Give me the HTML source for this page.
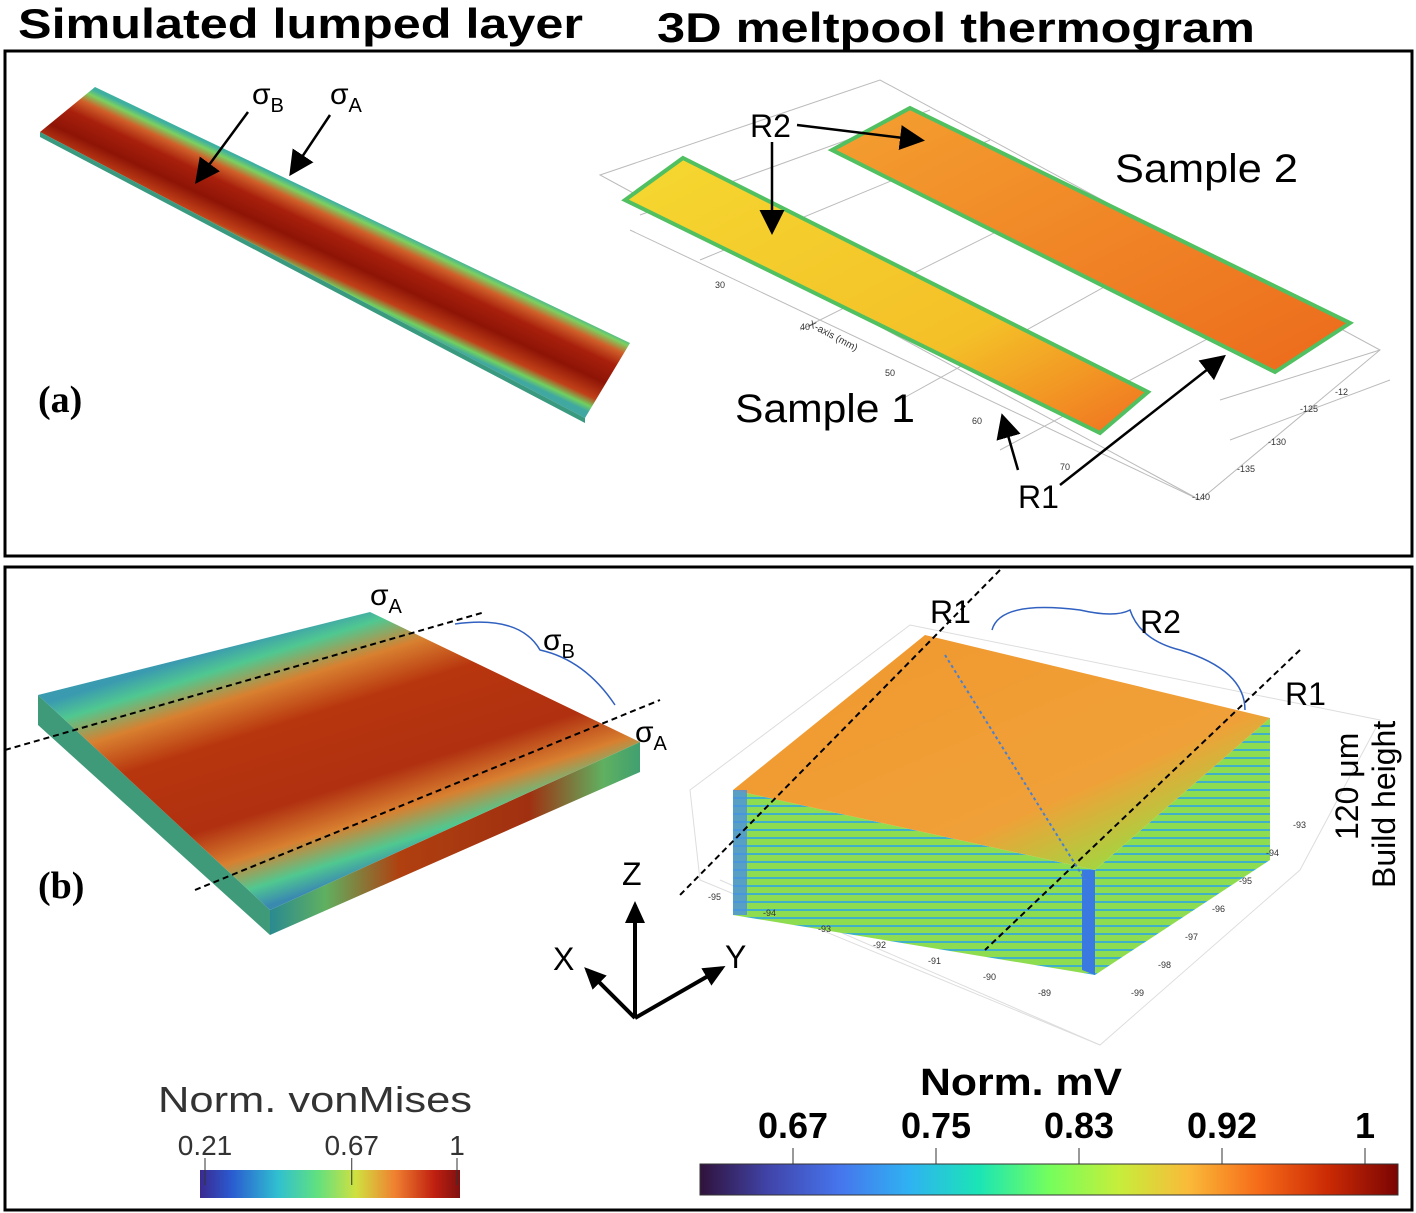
<!DOCTYPE html>
<html><head><meta charset="utf-8"><style>
body{margin:0;background:#fff;width:1416px;height:1213px;overflow:hidden;font-family:"Liberation Sans",sans-serif}
svg{display:block}
</style></head><body>
<svg width="1416" height="1213" viewBox="0 0 1416 1213">
<defs>
<linearGradient id="stripA" gradientUnits="userSpaceOnUse" x1="362" y1="215" x2="327" y2="290">
<stop offset="0" stop-color="#3fb0a0"/><stop offset="0.07" stop-color="#7cd060"/><stop offset="0.18" stop-color="#d0602a"/><stop offset="0.35" stop-color="#a8200c"/><stop offset="0.6" stop-color="#8e1406"/><stop offset="0.82" stop-color="#c04018"/><stop offset="0.93" stop-color="#70d060"/><stop offset="1" stop-color="#40a8a0"/>
</linearGradient>
<linearGradient id="slab" gradientUnits="userSpaceOnUse" x1="204" y1="653" x2="282" y2="901">
<stop offset="0" stop-color="#3a9ab0"/><stop offset="0.08" stop-color="#50c890"/><stop offset="0.2" stop-color="#d88030"/><stop offset="0.35" stop-color="#b8360e"/><stop offset="0.65" stop-color="#b03010"/><stop offset="0.8" stop-color="#d88030"/><stop offset="0.92" stop-color="#50c890"/><stop offset="1" stop-color="#3a8ab0"/>
</linearGradient>
<linearGradient id="slabSide" x1="0" y1="0" x2="1" y2="0">
<stop offset="0" stop-color="#2a8a90"/><stop offset="0.15" stop-color="#60b060"/><stop offset="0.35" stop-color="#b04010"/><stop offset="0.7" stop-color="#a03010"/><stop offset="0.9" stop-color="#60b060"/><stop offset="1" stop-color="#40a070"/>
</linearGradient>
<linearGradient id="therm1" x1="0" y1="0" x2="1" y2="1">
<stop offset="0" stop-color="#f5d830"/><stop offset="0.65" stop-color="#f4c028"/><stop offset="1" stop-color="#f07020"/>
</linearGradient>
<linearGradient id="therm2" x1="0" y1="0" x2="1" y2="1">
<stop offset="0" stop-color="#f4a030"/><stop offset="1" stop-color="#ec6a1c"/>
</linearGradient>
<linearGradient id="blockTop" x1="0" y1="0" x2="1" y2="1">
<stop offset="0" stop-color="#90d850"/><stop offset="0.15" stop-color="#f09a30"/><stop offset="0.65" stop-color="#f0a038"/><stop offset="0.85" stop-color="#a0d840"/><stop offset="1" stop-color="#60c0a0"/>
</linearGradient>
<pattern id="stripes" width="8" height="8" patternUnits="userSpaceOnUse">
<rect width="8" height="8" fill="#8edc50"/><rect y="5" width="8" height="2" fill="#40b0c8"/>
</pattern>
<linearGradient id="jet" x1="0" x2="1">
<stop offset="0" stop-color="#3a2a90"/><stop offset="0.12" stop-color="#2a5ad0"/><stop offset="0.3" stop-color="#30c0d0"/><stop offset="0.45" stop-color="#60e080"/><stop offset="0.6" stop-color="#d0e040"/><stop offset="0.75" stop-color="#f08030"/><stop offset="0.9" stop-color="#c02010"/><stop offset="1" stop-color="#801010"/>
</linearGradient>
<linearGradient id="turbo" x1="0" x2="1">
<stop offset="0" stop-color="#30123b"/><stop offset="0.1" stop-color="#4145ab"/><stop offset="0.2" stop-color="#4675ed"/><stop offset="0.3" stop-color="#2fb2f2"/><stop offset="0.4" stop-color="#1be5b5"/><stop offset="0.5" stop-color="#74fe5d"/><stop offset="0.6" stop-color="#c6ee3b"/><stop offset="0.7" stop-color="#faba39"/><stop offset="0.8" stop-color="#f66b19"/><stop offset="0.9" stop-color="#cb2a04"/><stop offset="1" stop-color="#7a0403"/>
</linearGradient>
<marker id="ah" markerWidth="10" markerHeight="10" refX="8" refY="5" orient="auto"><path d="M0,0 L10,5 L0,10 z" fill="#000"/></marker>
<marker id="ah2" markerUnits="userSpaceOnUse" markerWidth="22" markerHeight="20" refX="18" refY="10" orient="auto"><path d="M0,0 L22,10 L0,20 z" fill="#000"/></marker>
</defs>

<text x="18" y="38" font-size="42" font-weight="bold" textLength="565" lengthAdjust="spacingAndGlyphs">Simulated lumped layer</text>
<text x="657" y="42" font-size="42" font-weight="bold" textLength="598" lengthAdjust="spacingAndGlyphs">3D meltpool thermogram</text>

<rect x="5" y="51" width="1407" height="505" fill="none" stroke="#000" stroke-width="3"/>
<rect x="5" y="567" width="1407" height="643" fill="none" stroke="#000" stroke-width="3"/>

<polygon points="95,87 630,343 585,418 40,132" fill="url(#stripA)"/>
<polygon points="40,132 585,418 585,423 40,137" fill="#3a9a80"/>
<text x="252" y="104" font-size="30">σ<tspan font-size="20" dy="8">B</tspan></text>
<text x="330" y="104" font-size="30">σ<tspan font-size="20" dy="8">A</tspan></text>
<line x1="248" y1="112" x2="198" y2="180" stroke="#000" stroke-width="2.5" marker-end="url(#ah)"/>
<line x1="330" y1="115" x2="292" y2="172" stroke="#000" stroke-width="2.5" marker-end="url(#ah)"/>
<text x="38" y="412" font-size="38" font-weight="bold" font-family="Liberation Serif,serif">(a)</text>

<g stroke="#bbb" stroke-width="1" fill="none">
<polygon points="600,175 880,80 1380,350 1200,500"/>
<line x1="640" y1="215" x2="930" y2="110"/><line x1="700" y1="260" x2="990" y2="140"/><line x1="800" y1="330" x2="1080" y2="190"/><line x1="900" y1="400" x2="1180" y2="245"/><line x1="1000" y1="450" x2="1280" y2="300"/>
<line x1="1220" y1="400" x2="1380" y2="350"/><line x1="1230" y1="440" x2="1390" y2="380"/>
<line x1="630" y1="230" x2="1200" y2="500"/>
</g>
<g font-size="9" fill="#333">
<text x="715" y="288">30</text><text x="800" y="330">40</text><text x="808" y="326" transform="rotate(28 808 326)" font-size="10">X-axis (mm)</text><text x="885" y="376">50</text><text x="972" y="424">60</text><text x="1060" y="470">70</text>
<text x="1335" y="395">-12</text><text x="1300" y="412">-125</text><text x="1268" y="445">-130</text><text x="1237" y="472">-135</text><text x="1192" y="500">-140</text>
</g>
<polygon points="683,158 1148,392 1100,433 625,200" fill="url(#therm1)" stroke="#50c060" stroke-width="4"/>
<polygon points="910,108 1350,323 1275,372 832,150" fill="url(#therm2)" stroke="#50c060" stroke-width="4"/>
<text x="1115" y="182" font-size="40" textLength="183" lengthAdjust="spacingAndGlyphs">Sample 2</text>
<text x="735" y="422" font-size="40" textLength="180" lengthAdjust="spacingAndGlyphs">Sample 1</text>
<text x="750" y="137" font-size="32">R2</text>
<line x1="797" y1="125" x2="920" y2="140" stroke="#000" stroke-width="2.5" marker-end="url(#ah)"/>
<line x1="772" y1="142" x2="772" y2="230" stroke="#000" stroke-width="2.5" marker-end="url(#ah)"/>
<text x="1018" y="508" font-size="32">R1</text>
<line x1="1018" y1="470" x2="1003" y2="418" stroke="#000" stroke-width="2.5" marker-end="url(#ah)"/>
<line x1="1060" y1="485" x2="1222" y2="358" stroke="#000" stroke-width="2.5" marker-end="url(#ah)"/>

<polygon points="38,695 270,910 270,935 38,725" fill="#3f9a7a"/>
<polygon points="270,910 640,742 640,772 270,935" fill="url(#slabSide)"/>
<polygon points="370,612 640,742 270,910 38,695" fill="url(#slab)"/>
<line x1="5" y1="750" x2="485" y2="612" stroke="#000" stroke-width="2" stroke-dasharray="6,4"/>
<line x1="195" y1="890" x2="660" y2="700" stroke="#000" stroke-width="2" stroke-dasharray="6,4"/>
<text x="370" y="605" font-size="30">σ<tspan font-size="20" dy="8">A</tspan></text>
<text x="543" y="650" font-size="30">σ<tspan font-size="20" dy="8">B</tspan></text>
<text x="635" y="742" font-size="30">σ<tspan font-size="20" dy="8">A</tspan></text>
<path d="M455,624 Q520,615 540,650 Q585,660 615,705" fill="none" stroke="#3060c0" stroke-width="1.5"/>
<text x="38" y="898" font-size="38" font-weight="bold" font-family="Liberation Serif,serif">(b)</text>

<g stroke="#000" stroke-width="4" fill="none">
<line x1="635" y1="1018" x2="635" y2="905" marker-end="url(#ah2)"/>
<line x1="635" y1="1018" x2="587" y2="970" marker-end="url(#ah2)"/>
<line x1="635" y1="1018" x2="722" y2="968" marker-end="url(#ah2)"/>
</g>
<text x="622" y="885" font-size="32">Z</text>
<text x="553" y="970" font-size="32">X</text>
<text x="725" y="968" font-size="32">Y</text>

<g stroke="#ddd" stroke-width="1" fill="none">
<polygon points="690,790 910,625 1380,720 1300,870 1100,1045 700,880"/>
<line x1="720" y1="880" x2="1100" y2="1045"/>
</g>
<polygon points="733,790 1095,870 1095,975 733,915" fill="url(#stripes)"/>
<polygon points="1095,870 1270,718 1270,860 1095,975" fill="url(#stripes)"/>
<polygon points="925,635 1270,718 1095,870 733,790" fill="url(#blockTop)"/>
<rect x="733" y="790" width="14" height="125" fill="#4a90e0" opacity="0.8"/>
<polygon points="1082,870 1095,870 1095,975 1082,970" fill="#3a7ae0"/>
<line x1="1000" y1="570" x2="680" y2="895" stroke="#000" stroke-width="2" stroke-dasharray="6,4"/>
<line x1="1300" y1="650" x2="985" y2="950" stroke="#000" stroke-width="2" stroke-dasharray="6,4"/>
<line x1="945" y1="655" x2="1085" y2="880" stroke="#4a80d0" stroke-width="2" stroke-dasharray="3,3"/>
<path d="M992,630 Q1000,600 1080,610 Q1115,618 1130,610 Q1140,640 1180,650 Q1245,670 1245,710" fill="none" stroke="#3060c0" stroke-width="1.5"/>
<text x="930" y="623" font-size="32">R1</text>
<text x="1140" y="633" font-size="32">R2</text>
<text x="1285" y="705" font-size="32">R1</text>
<text transform="translate(1358,840) rotate(-90)" font-size="32">120 μm</text>
<text transform="translate(1395,888) rotate(-90)" font-size="32">Build height</text>
<g font-size="9" fill="#333" id="blockTicks"></g>

<text x="158" y="1112" font-size="36" fill="#333" textLength="314" lengthAdjust="spacingAndGlyphs">Norm. vonMises</text>
<rect x="200" y="1170" width="260" height="28" fill="url(#jet)"/>
<g id="cbLeft"></g>
<text x="920" y="1095" font-size="38" font-weight="bold" textLength="202" lengthAdjust="spacingAndGlyphs">Norm. mV</text>
<rect x="700" y="1164" width="698" height="31" fill="url(#turbo)" stroke="#333"/>
<g id="cbRight"></g>
</svg>
<script>
const leftTicks=[0.21,0.67,1];
const leftMin=0.21, leftMax=1;
const rightTicks=[0.67,0.75,0.83,0.92,1];
const rightTickIndex=[0,1,2,3,4];
const xTickLabels=["-95","-94","-93","-92","-91","-90","-89"];
const yTickLabels=["-93","-94","-95","-96","-97","-98","-99"];
const NS="http://www.w3.org/2000/svg";
function lx(v){return 205+(v-leftMin)/(leftMax-leftMin)*252;}
function rx(i){return 793+i*143;}
const gl=document.getElementById('cbLeft');
leftTicks.forEach(v=>{
 const t=document.createElementNS(NS,'text');
 
 
 t.setAttribute('x',lx(v));t.setAttribute('y',1155);t.setAttribute('font-size','28');t.setAttribute('fill','#333');t.setAttribute('text-anchor','middle');
 t.textContent=String(v);gl.appendChild(t);
 const l=document.createElementNS(NS,'line');
 
 
 l.setAttribute('x1',lx(v));l.setAttribute('x2',lx(v));l.setAttribute('y1',1158);l.setAttribute('y2',1185);l.setAttribute('stroke','#333');gl.appendChild(l);
});
const gr=document.getElementById('cbRight');
rightTicks.forEach((v,k)=>{
 const x=rx(rightTickIndex[k]);
 const t=document.createElementNS(NS,'text');
 
 
 t.setAttribute('x',x);t.setAttribute('y',1138);t.setAttribute('font-size','36');t.setAttribute('font-weight','bold');t.setAttribute('text-anchor','middle');
 t.textContent=String(v);gr.appendChild(t);
 const l=document.createElementNS(NS,'line');
 
 
 l.setAttribute('x1',x);l.setAttribute('x2',x);l.setAttribute('y1',1148);l.setAttribute('y2',1164);l.setAttribute('stroke','#333');gr.appendChild(l);
});
const gb=document.getElementById('blockTicks');
xTickLabels.forEach((s,i)=>{
 const t=document.createElementNS(NS,'text');
 
 
 t.setAttribute('x',708+i*55);t.setAttribute('y',900+i*16);t.textContent=s;gb.appendChild(t);
});
yTickLabels.forEach((s,i)=>{
 const t=document.createElementNS(NS,'text');
 
 
 t.setAttribute('x',1293-i*27);t.setAttribute('y',828+i*28);t.textContent=s;gb.appendChild(t);
});
</script>
</body></html>
